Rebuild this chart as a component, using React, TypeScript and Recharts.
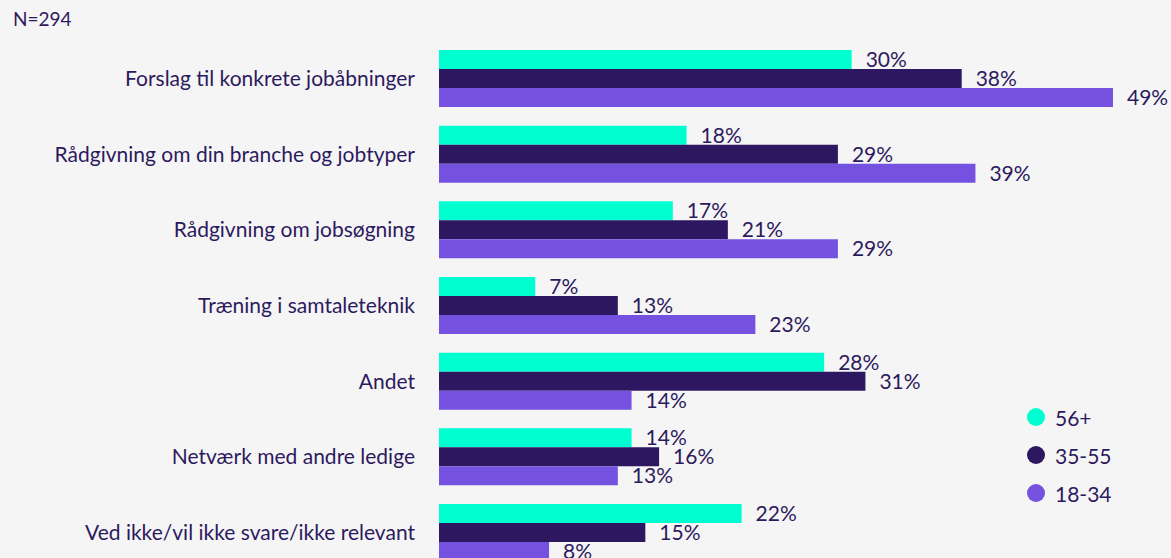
import React from 'react';
import { BarChart, Bar, XAxis, YAxis, LabelList } from 'recharts';

const categories = [
  'Forslag til konkrete jobåbninger',
  'Rådgivning om din branche og jobtyper',
  'Rådgivning om jobsøgning',
  'Træning i samtaleteknik',
  'Andet',
  'Netværk med andre ledige',
  'Ved ikke/vil ikke svare/ikke relevant',
];
const age56: number[] = [30, 18, 17, 7, 28, 14, 22];
const age35: number[] = [38, 29, 21, 13, 31, 16, 15];
const age18: number[] = [49, 39, 29, 23, 14, 13, 8];
const seriesNames = ['56+', '35-55', '18-34'];
const colors = ['#00FFD0', '#2D1760', '#7551E0'];
const TEXT = '#2D1A5E';
const FONT = 'Lato, sans-serif';

const data = categories.map((c, i) => ({ name: c, a: age56[i], b: age35[i], c: age18[i] }));

const LegendBox = () => (
  <div style={{ position: 'absolute', left: 1027, top: 398, fontFamily: FONT }}>
    {seriesNames.map((n, i) => (
      <div key={n} style={{ display: 'flex', alignItems: 'center', height: 38 }}>
        <svg width={18} height={18} style={{ marginRight: 10 }}>
          <circle cx={9} cy={9} r={9} fill={colors[i]} />
        </svg>
        <span style={{ color: TEXT, fontSize: 21 }}>{n}</span>
      </div>
    ))}
  </div>
);

export default function App() {
  const fmt = (v: any) => `${v}%`;
  const labelStyle = { fill: TEXT, fontSize: 21, fontFamily: FONT };
  return (
    <div style={{ position: 'fixed', left: 0, top: 0, width: 1171, height: 558, overflow: 'hidden', background: '#F5F5F5' }}>
      <div style={{ position: 'absolute', left: 13, top: 7, fontFamily: FONT, fontSize: 19, color: TEXT }}>N=294</div>
      <BarChart
        width={1171}
        height={580}
        data={data}
        layout="vertical"
        margin={{ top: 40.67, right: 58, bottom: 9.66, left: 0 }}
        barCategoryGap={9.33}
        barGap={0}
      >
        <XAxis type="number" domain={[0, 49]} hide />
        <YAxis
          type="category"
          dataKey="name"
          width={439}
          axisLine={false}
          tickLine={false}
          tickSize={0}
          tickMargin={24}
          interval={0}
          tick={{ fill: TEXT, fontSize: 21, fontFamily: FONT }}
        />
        <Bar dataKey="a" name={seriesNames[0]} fill={colors[0]} isAnimationActive={false}>
          <LabelList dataKey="a" position="right" offset={14} formatter={fmt} style={labelStyle} />
        </Bar>
        <Bar dataKey="b" name={seriesNames[1]} fill={colors[1]} isAnimationActive={false}>
          <LabelList dataKey="b" position="right" offset={14} formatter={fmt} style={labelStyle} />
        </Bar>
        <Bar dataKey="c" name={seriesNames[2]} fill={colors[2]} isAnimationActive={false}>
          <LabelList dataKey="c" position="right" offset={14} formatter={fmt} style={labelStyle} />
        </Bar>
      </BarChart>
      <LegendBox />
    </div>
  );
}
